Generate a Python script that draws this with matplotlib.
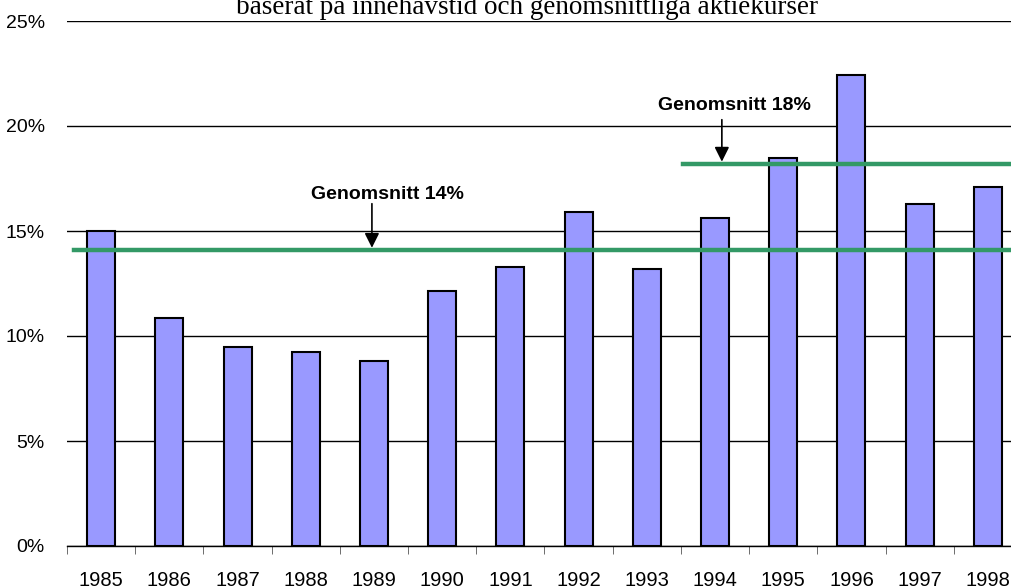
import matplotlib.pyplot as plt
import numpy as np

# data
years = ['1985', '1986', '1987', '1988', '1989', '1990', '1991',
         '1992', '1993', '1994', '1995', '1996', '1997', '1998']
avkastning = [15.0, 10.85, 9.5, 9.25, 8.8, 12.15, 13.3,
              15.9, 13.2, 15.6, 18.5, 22.45, 16.3, 17.1]
snitt_hela = 14.1
snitt_sen = 18.2
yticks = [0, 5, 10, 15, 20, 25]

fig = plt.figure(figsize=(10.12, 5.88), dpi=100)
ax = fig.add_axes([67/1012, 42/588, 955/1012, 525/588])

x = np.arange(len(years))
ax.set_axisbelow(True)
ax.bar(x, avkastning, width=0.41, color='#9999ff', edgecolor='black', linewidth=1.5, zorder=2)

# average lines
ax.plot([-0.4, 13.6], [snitt_hela, snitt_hela], color='#339966', linewidth=3.2, zorder=3)
ax.plot([8.53, 13.6], [snitt_sen, snitt_sen], color='#339966', linewidth=3.2, zorder=3)

# labels + vertical arrows
ax.text(4.2, 16.75, 'Genomsnitt 14%', ha='center', va='center', fontsize=14,
        fontweight='bold', family='Liberation Sans', zorder=4)
ax.annotate('', xy=(3.97, snitt_hela + 0.1), xytext=(3.97, 16.3),
            arrowprops=dict(arrowstyle='-|>', color='black', lw=1.2, mutation_scale=22,
                            shrinkA=0, shrinkB=0), zorder=4)
ax.text(9.29, 21.0, 'Genomsnitt 18%', ha='center', va='center', fontsize=14,
        fontweight='bold', family='Liberation Sans', zorder=4)
ax.annotate('', xy=(9.1, snitt_sen + 0.1), xytext=(9.1, 20.3),
            arrowprops=dict(arrowstyle='-|>', color='black', lw=1.2, mutation_scale=22,
                            shrinkA=0, shrinkB=0), zorder=4)

ax.set_xlim(-0.5, len(years) - 0.5)
ax.set_ylim(0, 25)
ax.set_yticks(yticks)
ax.set_yticklabels([f'{v}%' for v in yticks], family='Liberation Sans', fontsize=14)
ax.yaxis.grid(True, color='black', linewidth=1)
ax.tick_params(axis='y', length=0, pad=16)

ax.set_xticks(x)
ax.set_xticklabels(years, family='Liberation Sans', fontsize=14.5)
ax.set_xticks(np.arange(-0.5, len(years), 1), minor=True)
ax.tick_params(axis='x', which='major', length=0, pad=18)
ax.tick_params(axis='x', which='minor', length=6, color='#555555')

for s in ['left', 'right', 'top']:
    ax.spines[s].set_visible(False)
ax.spines['bottom'].set_linewidth(1)

fig.text(527/1012, 1 - 14/588, 'baserat på innehavstid och genomsnittliga aktiekurser',
         ha='center', va='baseline', fontsize=19.5, family='Liberation Serif')

fig.savefig('out.png', dpi=100)
